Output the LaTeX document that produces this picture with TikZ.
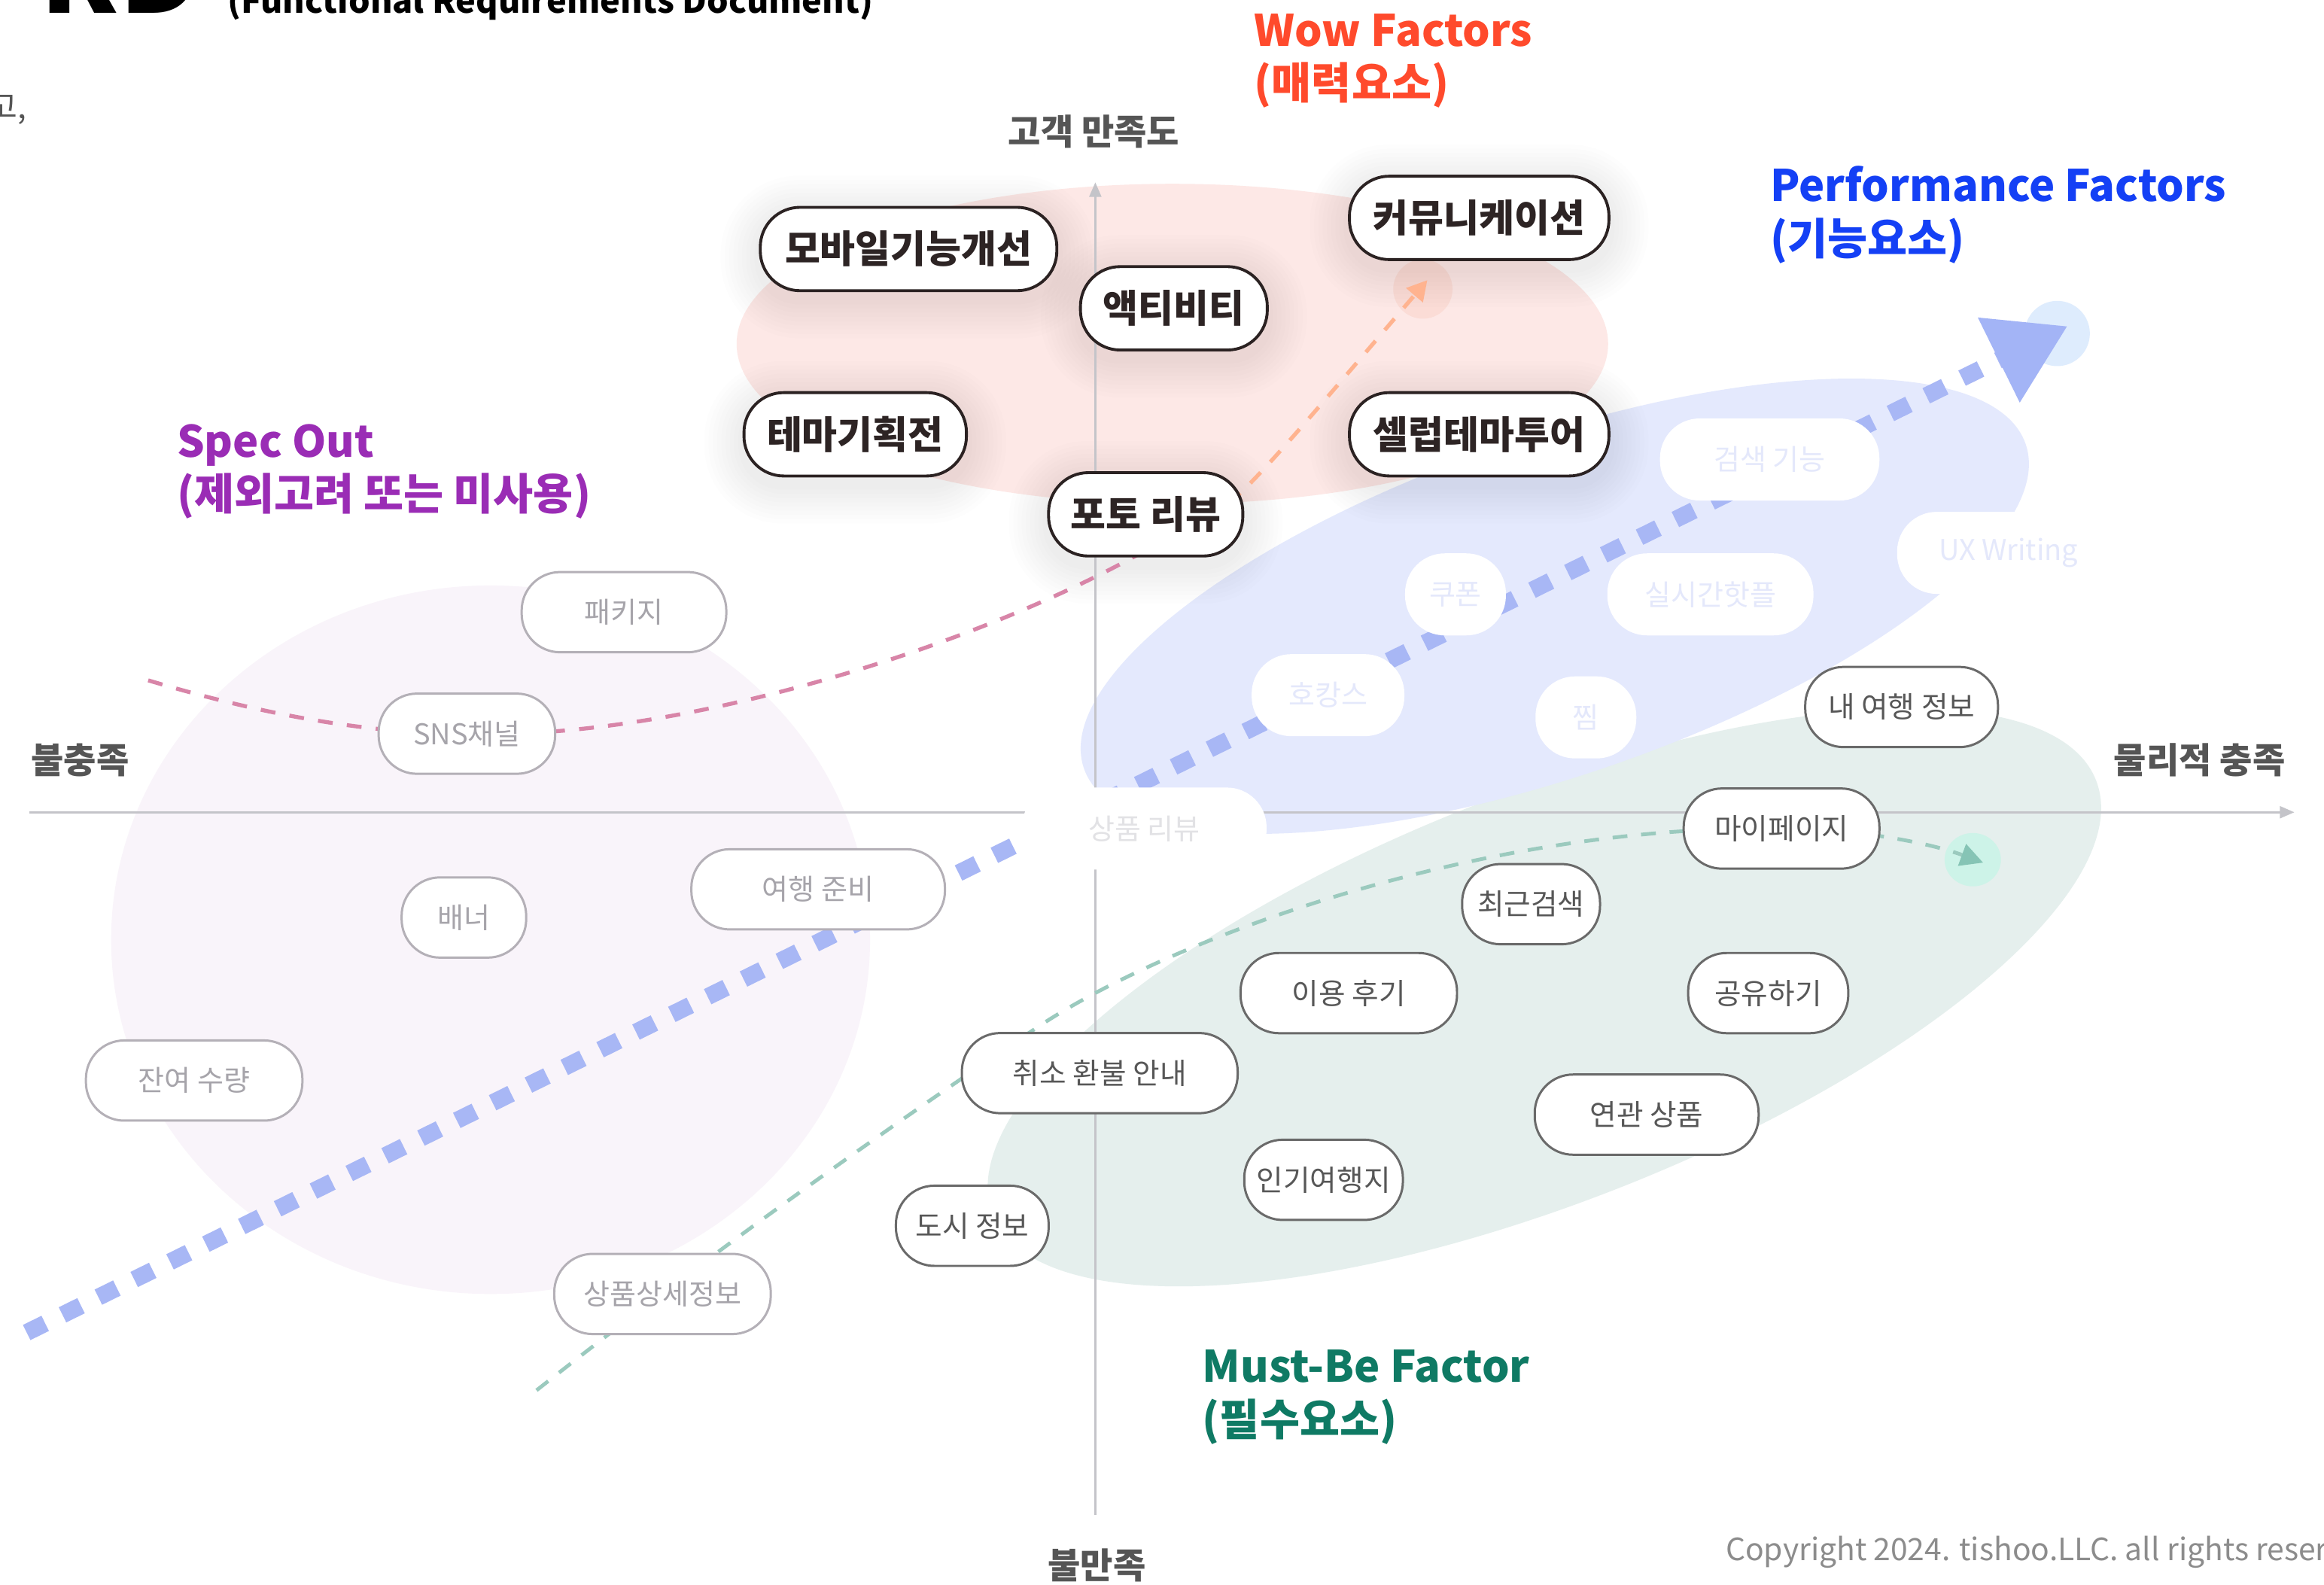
\documentclass[tikz,border=0pt]{standalone}
\usepackage{fontspec}
\setmainfont{Noto Sans CJK KR}
\usetikzlibrary{arrows.meta}
\definecolor{wowtext}{HTML}{2D2424}
\definecolor{wowborder}{HTML}{2B2222}
\definecolor{musttext}{HTML}{575757}
\definecolor{mustborder}{HTML}{6A6A6A}
\definecolor{spectext}{HTML}{A6A4AA}
\definecolor{specborder}{HTML}{B4B0B7}
\definecolor{perftext}{HTML}{E4E8FB}
\definecolor{revtext}{HTML}{E2E2E5}
\definecolor{axisgray}{HTML}{C4C4C9}
\definecolor{labelgray}{HTML}{555555}
\definecolor{wowlabel}{HTML}{FF4A2C}
\definecolor{perflabel}{HTML}{1440F5}
\definecolor{speclabel}{HTML}{9A2CB5}
\definecolor{mustlabel}{HTML}{0F7A64}
\definecolor{wowfill}{HTML}{FDE8E6}
\definecolor{specfill}{HTML}{F9F4FA}
\definecolor{perffill}{HTML}{E4E9FD}
\definecolor{mustfill}{HTML}{E5EFED}
\definecolor{bluedash}{HTML}{A8B7F5}
\definecolor{pinkdash}{HTML}{D885A8}
\definecolor{orangedash}{HTML}{FFB38F}
\definecolor{greendash}{HTML}{9BCABE}
\definecolor{bluecirc}{HTML}{DEECFD}
\definecolor{orangecirc}{HTML}{FBDCD6}
\definecolor{greencirc}{HTML}{CDF3E8}
\definecolor{bluetip}{HTML}{A3B4F6}
\definecolor{greentip}{HTML}{86C4B5}
\definecolor{copygray}{HTML}{8C8C8C}
\pgfdeclarelayer{bg}
\pgfdeclarelayer{mid}
\pgfsetlayers{bg,mid,main}
\begin{document}
\begin{tikzpicture}[x=0.01969cm, y=-0.01969cm,
  box/.style={rounded corners=14.5pt, minimum height=30.3pt, inner sep=0pt, align=center},
  wd/.style={minimum width=#1*0.5603pt},
  wownode/.style={box, draw=wowborder, line width=1.1pt, fill=white, text=wowtext,
    font=\fontsize{14.5}{16}\selectfont\bfseries, minimum height=31.5pt, rounded corners=15pt},
  mustnode/.style={box, draw=mustborder, line width=0.85pt, fill=white, text=musttext,
    font=\fontsize{11}{12}\selectfont},
  specnode/.style={box, draw=specborder, line width=0.85pt, fill=white, text=spectext,
    font=\fontsize{10.8}{12}\selectfont},
  perfnode/.style={box, fill=white, text=perftext, font=\fontsize{10.8}{12}\selectfont, minimum height=31pt, rounded corners=15pt},
  catlabel/.style={anchor=base west, inner sep=0pt, font=\fontsize{16.4}{20}\selectfont\bfseries},
  axislabel/.style={inner sep=0pt, text=labelgray, font=\fontsize{13.4}{15}\selectfont\bfseries},
  axisline/.style={draw=axisgray, line width=0.85pt, -{Triangle[length=5.5pt,width=4.5pt,color=axisgray]}},
  bluedashed/.style={draw=bluedash, line width=6.4pt, dash pattern=on 7.8pt off 7.3pt,
    -{Triangle[length=29pt,width=34pt,color=bluetip]}},
  pinkdashed/.style={draw=pinkdash, line width=1.5pt, dash pattern=on 5.6pt off 5.4pt},
  orangedashed/.style={draw=orangedash, line width=1.5pt, dash pattern=on 5.6pt off 5.4pt,
    -{Triangle[length=7.5pt,width=8pt,color=orangedash]}},
  greendashed/.style={draw=greendash, line width=1.4pt, dash pattern=on 5.6pt off 5.2pt,
    -{Triangle[length=8.5pt,width=8.5pt,color=greentip]}}
]
\useasboundingbox (0,0) rectangle (1568,1069);

% ---------- background shapes ----------
\begin{pgfonlayer}{bg}
\fill[white] (0,0) rectangle (1568,1069);
\fill[specfill] (331,634) ellipse [x radius=256, y radius=239];
\fill[mustfill, rotate around={21.5:(1042,673)}] (1042,673) ellipse [x radius=400, y radius=138];
\fill[wowfill] (791,232) ellipse [x radius=294, y radius=108];
\fill[perffill, rotate around={19:(1049,409)}] (1049,409) ellipse [x radius=336, y radius=114];
\fill[bluecirc] (1388,225) circle [radius=22];
\fill[orangecirc] (960,195) circle [radius=20];
\fill[greencirc] (1331,580) ellipse [x radius=19, y radius=18];
\end{pgfonlayer}

% ---------- coordinates ----------
\coordinate (hl) at (20,548);
\coordinate (hr) at (1548,548);
\coordinate (vb) at (739,1022);
\coordinate (vt) at (739,123);
\coordinate (bstart) at (18,899);
\coordinate (btip) at (1395,220);
\coordinate (pstart) at (100,459);
\coordinate (pbend) at (795,358);
\coordinate (otip) at (963,189);
\coordinate (gstart) at (362,938);
\coordinate (gbend) at (700,693);
\coordinate (gtip) at (1338,582);

% ---------- Wow nodes ----------
\node[wownode, wd=200] (mobile) at (613,168) {모바일기능개선};
\node[wownode, wd=126] (activity) at (792,208) {액티비티};
\node[wownode, wd=175] (comm) at (998,147) {커뮤니케이션};
\node[wownode, wd=150] (theme) at (577,293) {테마기획전};
\node[wownode, wd=175] (celeb) at (998,293) {셀럽테마투어};
\node[wownode, wd=131] (photo) at (773,347) {포토 리뷰};

% ---------- Performance nodes ----------
\node[perfnode, wd=148] (search) at (1194,310) {검색 기능};
\node[perfnode, wd=150] (ux) at (1355,373) {UX Writing};
\node[perfnode, wd=68] (coupon) at (982,401) {쿠폰};
\node[perfnode, wd=139] (hot) at (1154,401) {실시간핫플};
\node[perfnode, wd=103] (hocance) at (896,469) {호캉스};
\node[perfnode, wd=68] (zzim) at (1070,484) {찜};
\node[perfnode, wd=165, text=revtext] (prodreview) at (772,559) {상품 리뷰};

% ---------- Must-be nodes ----------
\node[mustnode, wd=130] (myinfo) at (1283,477) {내 여행 정보};
\node[mustnode, wd=132] (mypage) at (1202,559) {마이페이지};
\node[mustnode, wd=93] (recent) at (1033,610) {최근검색};
\node[mustnode, wd=146] (usereview) at (910,670) {이용 후기};
\node[mustnode, wd=108] (share) at (1193,670) {공유하기};
\node[mustnode, wd=186] (refund) at (742,724) {취소 환불 안내};
\node[mustnode, wd=151] (related) at (1111,752) {연관 상품};
\node[mustnode, wd=107] (popular) at (893,796) {인기여행지};
\node[mustnode, wd=103] (city) at (656,827) {도시 정보};

% ---------- Spec-out nodes ----------
\node[specnode, wd=138] (package) at (421,413) {패키지};
\node[specnode, wd=119] (sns) at (315,495) {SNS채널};
\node[specnode, wd=84] (banner) at (313,619) {배너};
\node[specnode, wd=171] (prep) at (552,600) {여행 준비};
\node[specnode, wd=146] (stock) at (131,729) {잔여 수량};
\node[specnode, wd=146] (detail) at (447,873) {상품상세정보};

% ---------- shadows, axes and connectors (under nodes) ----------
\begin{pgfonlayer}{mid}
\foreach \n in {mobile,activity,comm,theme,celeb,photo}{
  \foreach \k in {1,...,9}{
    \pgfmathsetlengthmacro\rr{15pt+\k*1.6pt}
    \fill[black, opacity=0.009, rounded corners=\rr] ([xshift=-\k*1.6pt, yshift=-\k*1.6pt-3pt]\n.south west) rectangle ([xshift=\k*1.6pt, yshift=\k*1.6pt-3pt]\n.north east);
  }
}
\draw[axisline] (hl) -- (hr);
\draw[axisline] (vb) -- (vt);
\draw[bluedashed] (bstart) -- (btip);
\draw[pinkdashed] (pstart) .. controls (180,483) and (250,495) .. (sns.center)
  .. controls (470,500) and (690,425) .. (pbend);
\draw[orangedashed] (pbend) .. controls (830,345) .. (otip);
\draw[greendashed] (gstart) .. controls (480,845) and (600,760) .. (gbend)
  .. controls (790,633) and (1000,556) .. (mypage.center)
  .. controls (1250,559) and (1300,568) .. (gtip);
\end{pgfonlayer}

% ---------- axis labels ----------
\node[axislabel] (sat) at (738,89) {고객 만족도};
\node[axislabel] (dissat) at (740,1056) {불만족};
\node[axislabel] (unful) at (54,513) {불충족};
\node[axislabel] (ful) at (1484,513) {물리적 충족};

% ---------- category labels ----------
\node[catlabel, text=wowlabel] (wow1) at (846,31.3) {Wow Factors};
\node[catlabel, text=wowlabel] (wow2) at (846,67) {(매력요소)};
\node[catlabel, text=perflabel] (perf1) at (1194,136) {Performance Factors};
\node[catlabel, text=perflabel] (perf2) at (1194,172) {(기능요소)};
\node[catlabel, text=speclabel] (spec1) at (119,308.5) {Spec Out};
\node[catlabel, text=speclabel] (spec2) at (119,344) {(제외고려 또는 미사용)};
\node[catlabel, text=mustlabel] (must1) at (811,932.6) {Must-Be Factor};
\node[catlabel, text=mustlabel] (must2) at (811,968.5) {(필수요소)};

% ---------- page fragments ----------
\node[anchor=base west, inner sep=0pt, font=\fontsize{42}{42}\selectfont\bfseries] (rd) at (27,9) {RD};
\node[anchor=base west, inner sep=0pt, font=\fontsize{12.8}{14}\selectfont\bfseries] (frd) at (153,9) {(Functional Requirements Document)};
\node[anchor=base east, inner sep=0pt, text=labelgray, font=\fontsize{12}{14}\selectfont] (cut) at (18,80) {고,};
\node[anchor=base west, inner sep=0pt, text=copygray, font=\fontsize{11.6}{13}\selectfont] (copy) at (1164,1053) {Copyright 2024. tishoo.LLC. all rights reserved.};
\end{tikzpicture}
\end{document}
